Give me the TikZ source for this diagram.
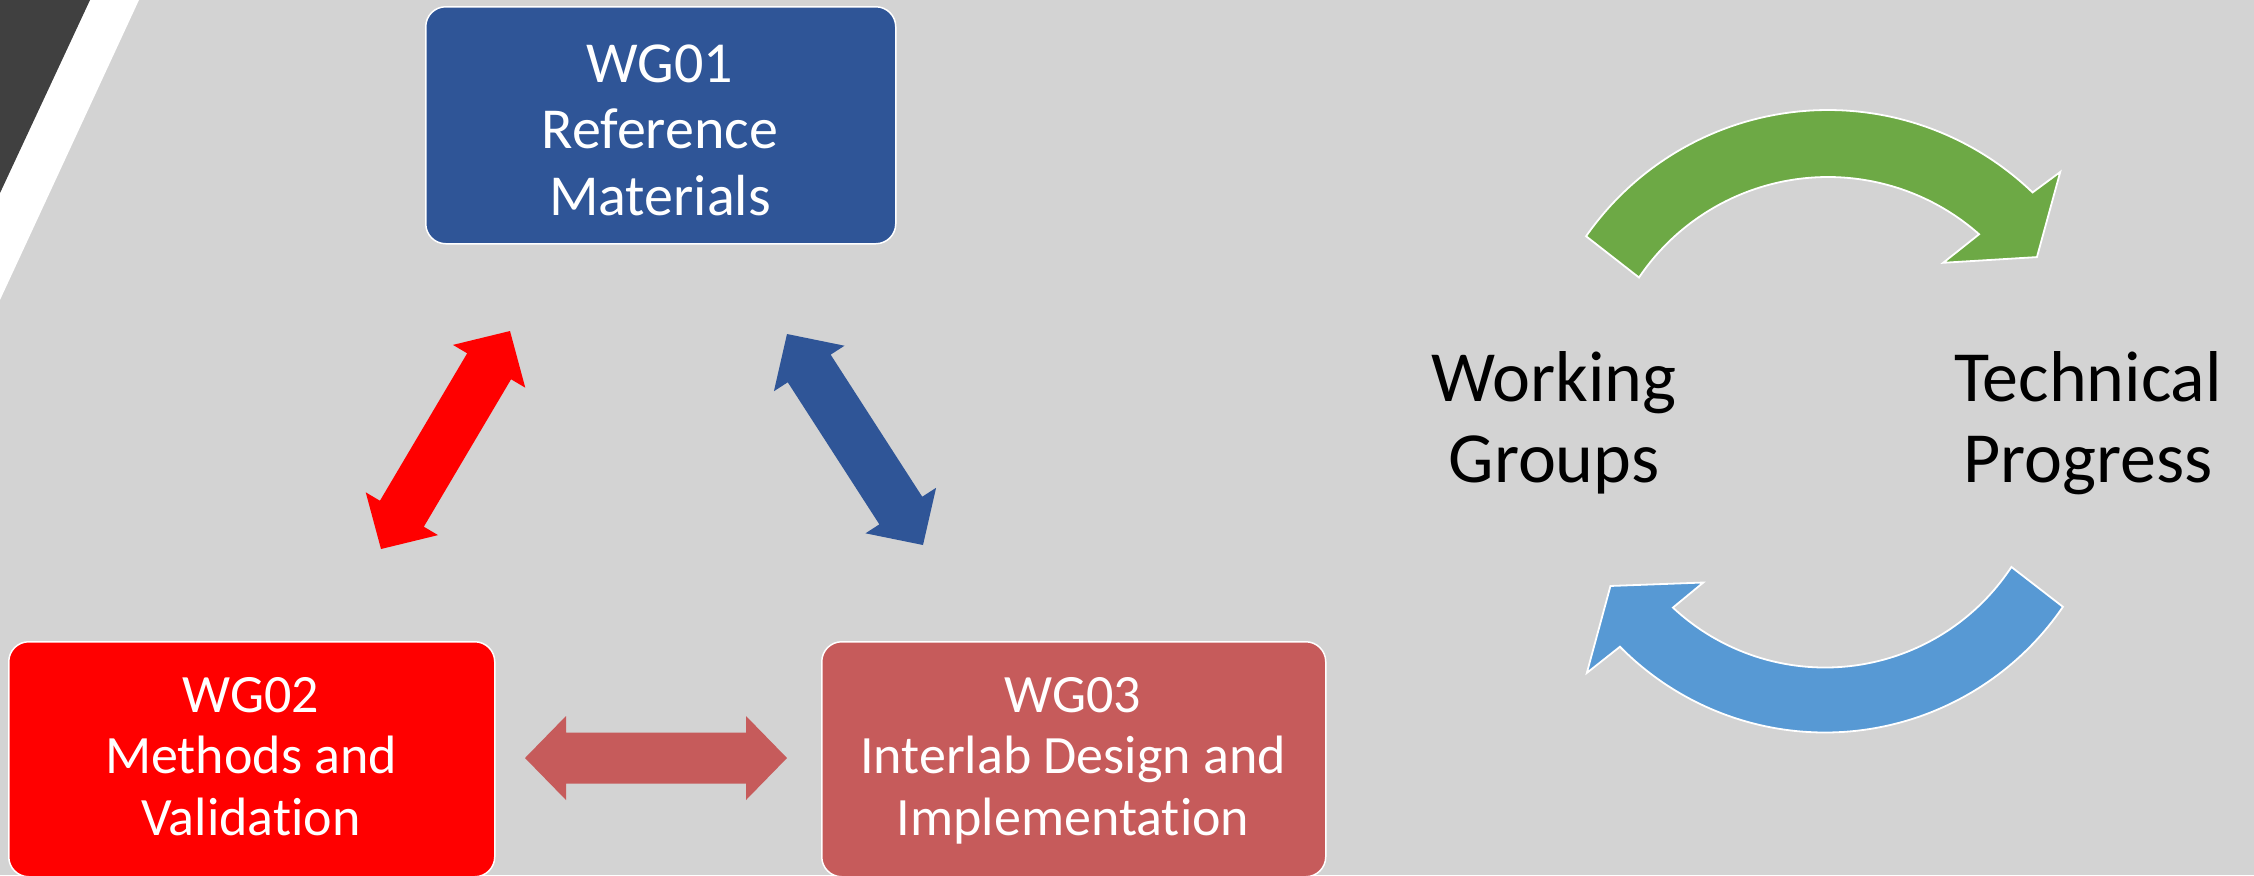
\documentclass[tikz,border=0pt]{standalone}
\usepackage{fontspec}
\setmainfont{Carlito}[Ligatures={NoCommon,NoContextual}]
\usetikzlibrary{calc}

\definecolor{bg}{HTML}{D3D3D3}
\definecolor{slate}{HTML}{404040}
\definecolor{wgblue}{HTML}{2F5597}
\definecolor{wgred}{HTML}{FF0000}
\definecolor{wgrose}{HTML}{C65B5B}
\definecolor{cyclegreen}{HTML}{6DA945}
\definecolor{cycleblue}{HTML}{5799D4}

% geometry of the straight double-headed block arrows
\newcommand\dbHeadLen{20.5pt}
\newcommand\dbHeadHalf{21pt}
\newcommand\dbShaftHalf{12.75pt}
% #1 and #2: the two tips, #3: fill colour
\newcommand\dblblock[3]{%
  \path ($(#1)!\dbHeadLen!(#2)$) coordinate (ba)
        ($(#2)!\dbHeadLen!(#1)$) coordinate (bb);
  \fill[#3] (#1) -- ($(ba)!\dbHeadHalf!90:(#2)$) -- ($(ba)!\dbShaftHalf!90:(#2)$)
     -- ($(bb)!\dbShaftHalf!-90:(#1)$) -- ($(bb)!\dbHeadHalf!-90:(#1)$) -- (#2)
     -- ($(bb)!\dbHeadHalf!90:(#1)$) -- ($(bb)!\dbShaftHalf!90:(#1)$)
     -- ($(ba)!\dbShaftHalf!-90:(#2)$) -- ($(ba)!\dbHeadHalf!-90:(#2)$) -- cycle;}

\tikzset{
  wgbox/.style={draw=white, line width=0.75pt, rounded corners=10pt,
    inner sep=0pt, anchor=north west},
  boxtext/.style={text=white, inner sep=0pt, anchor=base},
  cycletext/.style={text=black, inner sep=0pt, anchor=base,
    font=\fontsize{36pt}{40.5pt}\selectfont},
  cyclearrow/.style={draw=white, line width=0.9pt, line join=miter},
}

\begin{document}
\begin{tikzpicture}[x=0.5pt, y=-0.5pt]
  % page and background
  \fill[bg] (0,0) rectangle (2254,875);
  \useasboundingbox (0,0) rectangle (2254,875);

  % corner decoration
  \fill[white] (90,0) -- (139,0) -- (0,300) -- (0,193) -- cycle;
  \fill[slate] (0,0) -- (90,0) -- (0,193) -- cycle;

  % working group boxes
  \node[wgbox, fill=wgblue, minimum width=235pt, minimum height=118.5pt] (wg1) at (425,6) {};
  \node[wgbox, fill=wgred,  minimum width=243pt, minimum height=117.5pt] (wg2) at (8,641) {};
  \node[wgbox, fill=wgrose, minimum width=252pt, minimum height=117.5pt] (wg3) at (821,641) {};

  \node[boxtext, font=\fontsize{29pt}{33.25pt}\selectfont] (wg1t) at (660,82)
    {\begin{tabular}[t]{@{}c@{}}WG01\\Reference\\Materials\end{tabular}};
  \node[boxtext, font=\fontsize{27pt}{30.75pt}\selectfont] (wg2t) at (251,712)
    {\begin{tabular}[t]{@{}c@{}}WG02\\Methods and\\Validation\end{tabular}};
  \node[boxtext, font=\fontsize{27pt}{30.75pt}\selectfont] (wg3t) at (1073,712)
    {\begin{tabular}[t]{@{}c@{}}WG03\\Interlab Design and\\Implementation\end{tabular}};

  % ends of the links between the groups
  \coordinate (l12a) at (510,331);
  \coordinate (l12b) at (381,549);
  \coordinate (l13a) at (787,334);
  \coordinate (l13b) at (923,545);
  \coordinate (l23a) at (525,758);
  \coordinate (l23b) at (787,758);

  \dblblock{l12a}{l12b}{wgred}
  \dblblock{l13a}{l13b}{wgblue}
  \dblblock{l23a}{l23b}{wgrose}

  % cycle between working groups and technical progress
  \node[cycletext] (wgs) at (1554,401)
    {\begin{tabular}[t]{@{}c@{}}Working\\Groups\end{tabular}};
  \node[cycletext] (tp) at (2088,401)
    {\begin{tabular}[t]{@{}c@{}}Technical\\Progress\end{tabular}};

  \coordinate (gc) at (1828,405);
  \coordinate (bc) at (1825,444.5);

  \path[cyclearrow, fill=cyclegreen]
    ($(gc)+(-145.1:295)$) arc[start angle=-145.1, end angle=-46.1, radius=295]
    -- ($(gc)+(-45.1:329)$) -- ($(gc)+(-35.3:256)$) -- ($(gc)+(-51:183)$)
    -- ($(gc)+(-48.5:228)$) arc[start angle=-48.5, end angle=-146, radius=228]
    -- cycle;

  \path[cyclearrow, fill=cycleblue]
    ($(bc)+(34.3:288)$) arc[start angle=34.3, end angle=135.4, radius=288]
    -- ($(bc)+(136.2:330)$) -- ($(bc)+(146.6:257)$) -- ($(bc)+(131.4:184)$)
    -- ($(bc)+(133:223)$) arc[start angle=133, end angle=33.3, radius=223]
    -- cycle;
\end{tikzpicture}
\end{document}
